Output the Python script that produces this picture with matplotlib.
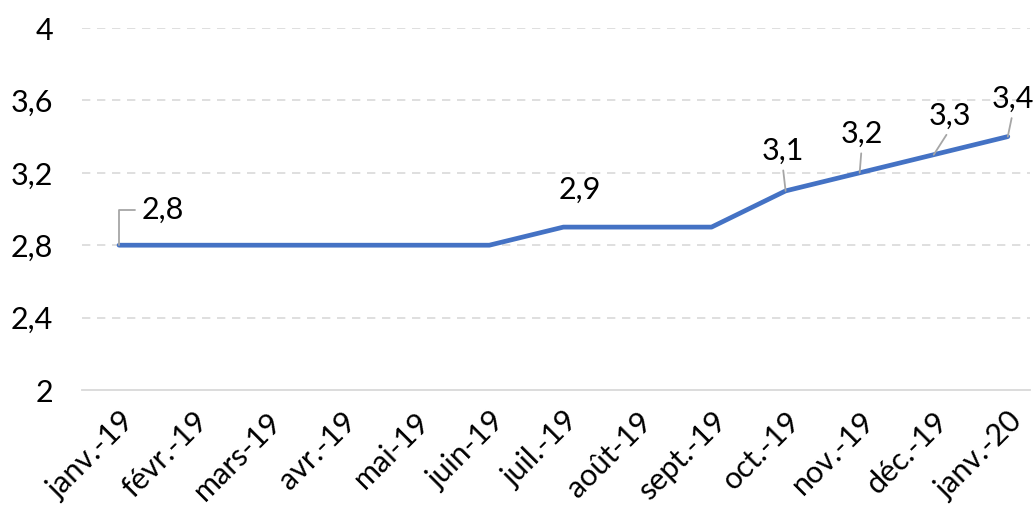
import numpy as np
import matplotlib.pyplot as plt

# Donnees
mois = ['janv.-19', 'févr.-19', 'mars-19', 'avr.-19', 'mai-19', 'juin-19',
        'juil.-19', 'août-19', 'sept.-19', 'oct.-19', 'nov.-19', 'déc.-19', 'janv.-20']
valeurs = [2.8, 2.8, 2.8, 2.8, 2.8, 2.8, 2.9, 2.9, 2.9, 3.1, 3.2, 3.3, 3.4]
yticks = [2, 2.4, 2.8, 3.2, 3.6, 4]

# points avec etiquette : (index, decalage x, decalage y en pixels, ligne de rappel)
etiquettes = [(0, 44, 35, 'coude'), (6, 16, 37, None), (9, -3, 40, 'droite'),
              (10, 2, 39, 'droite'), (11, 16, 39, 'droite'), (12, 5, 38, 'droite')]

plt.rcParams['font.family'] = ['Lato', 'DejaVu Sans']

fig = plt.figure(figsize=(10.34, 5.09), dpi=100)
ax = fig.add_axes([82/1034, 1-390/509, (1030-82)/1034, (390-28)/509])

x = np.arange(len(mois))
ax.plot(x, valeurs, color='#4472C4', lw=3.4, solid_capstyle='round', zorder=3)

ax.set_xlim(-0.5, 12.3)
ax.set_ylim(2, 4)
ax.set_yticks(yticks)
ax.set_yticklabels([('%g' % v).replace('.', ',') for v in yticks], fontsize=22)
ax.set_xticks(x)
ax.set_xticklabels(mois, fontsize=22, rotation=45, ha='right', rotation_mode='anchor')
ax.tick_params(axis='y', length=0, pad=21)
ax.tick_params(axis='x', length=0, pad=12)

for v in yticks[1:]:
    ax.axhline(v, color='#d9d9d9', lw=1.2, ls=(0, (5, 4)), zorder=1)
for s in ['top', 'right', 'left']:
    ax.spines[s].set_visible(False)
ax.spines['bottom'].set_color('#d9d9d9')
ax.spines['bottom'].set_linewidth(1.3)

for i, dx, dy, ligne in etiquettes:
    txt = ('%g' % valeurs[i]).replace('.', ',')
    if ligne == 'coude':
        props = dict(arrowstyle='-', color='#a6a6a6', lw=1.3, shrinkA=3, shrinkB=0,
                     relpos=(0, 0.5), connectionstyle='angle,angleA=0,angleB=90,rad=0')
    elif ligne == 'droite':
        props = dict(arrowstyle='-', color='#a6a6a6', lw=1.3, shrinkA=2, shrinkB=0,
                     relpos=(0.5, 0))
    else:
        props = None
    ax.annotate(txt, (x[i], valeurs[i]), xytext=(dx, dy), textcoords='offset pixels',
                ha='center', va='center', fontsize=22, arrowprops=props, zorder=4)

fig.savefig('out.png', dpi=100)
